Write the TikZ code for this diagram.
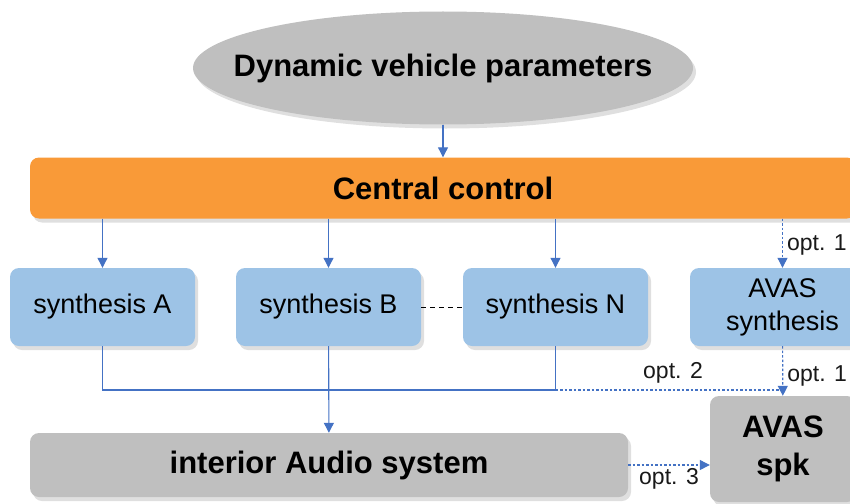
\documentclass[tikz,border=0pt]{standalone}
\usepackage{fontspec}
\setmainfont{Liberation Sans}
\usepackage{xcolor}
\usepackage{tikz}
\usetikzlibrary{
  positioning,
  calc,
  arrows.meta,
  shapes.geometric,
  shadows
}

\definecolor{boxgray}{HTML}{BFBFBF}
\definecolor{ctrlorange}{HTML}{F99A38}
\definecolor{synblue}{HTML}{9DC3E6}
\definecolor{linkblue}{HTML}{4472C4}

\tikzset{
  shade/.style={drop shadow={opacity=0.25,shadow xshift=3pt,shadow yshift=-4pt}},
  blk/.style={rounded corners=9pt,shade,inner sep=0pt,align=center},
  synbox/.style={blk,fill=synblue,minimum width=185pt,minimum height=78pt,
    font=\fontsize{27}{33}\selectfont},
  graybox/.style={blk,fill=boxgray,font=\fontsize{31}{36}\selectfont\bfseries},
  link/.style={linkblue,line width=1.1pt},
  linkarr/.style={link,-{Triangle[length=10pt,width=10pt]}},
  optlink/.style={link,dash pattern=on 2.5pt off 2pt},
  optarr/.style={optlink,-{Triangle[length=10pt,width=10pt]}},
  optlabel/.style={text=black!90,font=\fontsize{23}{26}\selectfont,inner sep=2pt}
}

\begin{document}
\begin{tikzpicture}[x=1pt,y=-1pt]
  \useasboundingbox (0,0) rectangle (850,503);
  \clip (0,0) rectangle (850,503);

  % 入力
  \node[ellipse,fill=boxgray,shade,inner xsep=-33pt,inner ysep=0pt,
    minimum width=500pt,minimum height=113pt,
    font=\fontsize{31}{36}\selectfont\bfseries] (params) at (443,68)
    {Dynamic vehicle parameters};
  % 中央制御
  \node[blk,fill=ctrlorange,minimum width=826pt,minimum height=61pt,
    font=\fontsize{31}{36}\selectfont\bfseries] (ctrl) at (443,188) {Central control};

  % 合成ブロック
  \node[synbox] (synA) at (102.5,307) {synthesis A};
  \node[synbox] (synB) at (328.5,307) {synthesis B};
  \node[synbox] (synN) at (555.5,307) {synthesis N};
  \node[synbox] (avas) at (782.5,307) {AVAS\\synthesis};

  % 出力
  \node[graybox,minimum width=598pt,minimum height=64pt] (audio) at (329,465)
    {interior Audio system};
  \node[graybox,minimum width=146pt,minimum height=106pt,
    font=\fontsize{31}{38}\selectfont\bfseries] (spk) at (783,449) {AVAS\\spk};

  % 制御 -> 合成
  \draw[linkarr] (params) -- (ctrl);
  \foreach \s in {synA,synB,synN}
    \draw[linkarr] (ctrl.south -| \s) -- (\s);
  \draw[optarr] (ctrl.south -| avas) -- (avas)
    node[optlabel,right,midway,xshift=2pt,yshift=-2pt] {opt. 1};
  \draw[dashed,line width=1pt,dash pattern=on 5pt off 4pt] (synB) -- (synN);

  % 合成 -> 出力
  \coordinate (bus) at (329,390);
  \draw[link] (synA) |- (synN.south |- bus) -- (synN);
  \draw[linkarr] (synB) -- (audio);
  \draw[optlink] (synN.south |- bus) -- (bus -| avas);
  \node[optlabel] (opt2) at (673,373) {opt. 2};
  \draw[optarr] (avas) -- (spk)
    node[optlabel,right,pos=0.6,xshift=2pt] {opt. 1};
  \draw[optarr] (audio.east) -- (audio.east -| spk.west)
    node[optlabel,below,midway,yshift=-1pt] {opt. 3};
\end{tikzpicture}
\end{document}
